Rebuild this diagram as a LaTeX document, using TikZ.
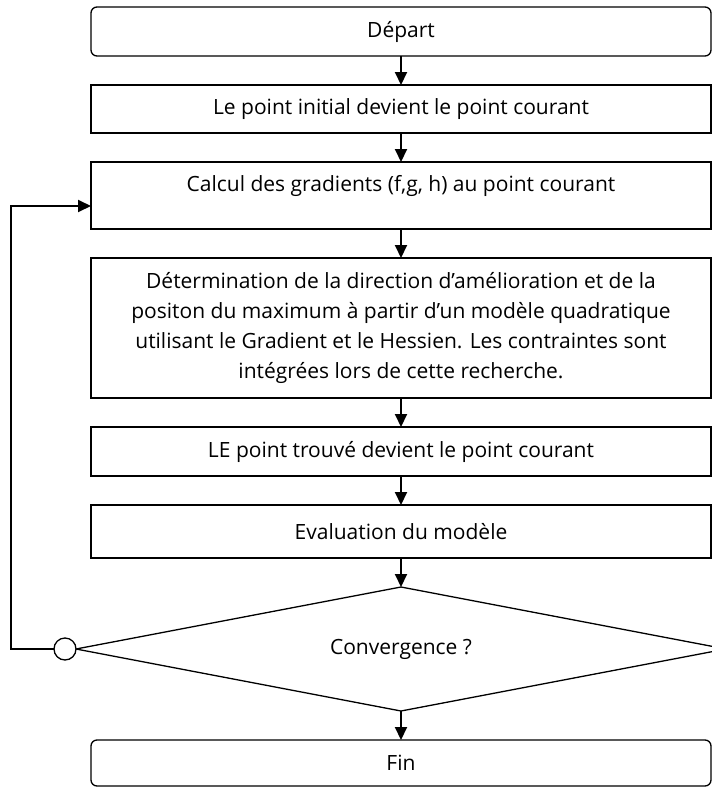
\documentclass[tikz,border=0pt]{standalone}
\usepackage{fontspec}
\setmainfont{Open Sans}
\usetikzlibrary{arrows.meta,positioning,shapes.geometric}

\begin{document}
\begin{tikzpicture}[
    x=1pt, y=1pt,
    node distance=29pt,
    box/.style={draw, line width=1.3pt, minimum width=620pt, align=center,
                font=\fontsize{21}{30}\selectfont, inner sep=4pt, outer sep=0pt},
    term/.style={box, rounded corners=6pt},
    test/.style={box, diamond, aspect=5, minimum width=650pt, minimum height=124pt, inner sep=0pt},
    jn/.style={circle, draw, fill=white, line width=1.3pt, minimum size=22pt, inner sep=0pt, outer sep=0pt},
    ar/.style={-{Triangle[length=13pt,width=12pt]}, line width=2pt}
]
\useasboundingbox (0,0) rectangle (712,-787);

\node[term, minimum height=49pt] (dep) at (401,-31.5) {Départ};
\node[box, below=of dep, minimum height=48pt] (init) {Le point initial devient le point courant};
\node[box, below=of init, minimum height=67pt, text height=15pt, text depth=23pt]
             (calc) {Calcul des gradients (f,g, h) au point courant};
\node[box, below=of calc, minimum height=140pt]
             (det)  {Détermination de la direction d’amélioration et de la\\
                     positon du maximum à partir d’un modèle quadratique\\
                     utilisant le Gradient et le Hessien. Les contraintes sont\\
                     intégrées lors de cette recherche.};
\node[box, below=of det, minimum height=49pt] (trouve) {LE point trouvé devient le point courant};
\node[box, below=of trouve, minimum height=53pt] (eval) {Evaluation du modèle};
\node[test, below=of eval] (conv) {Convergence ?};
\node[term, below=of conv, minimum height=46pt] (fin) {Fin};
\node[jn, left=0pt of conv.west] (jn) {};

\draw[ar] (dep) -- (init);
\draw[ar] (init) -- (calc);
\draw[ar] (calc) -- (det);
\draw[ar] (det) -- (trouve);
\draw[ar] (trouve) -- (eval);
\draw[ar] (eval) -- (conv);
\draw[ar] (conv) -- (fin);

% retour vers le calcul des gradients
\draw[ar] (jn.west) -| ([xshift=-80pt,yshift=-10.5pt]calc.west) -- ([yshift=-10.5pt]calc.west);
\end{tikzpicture}
\end{document}
